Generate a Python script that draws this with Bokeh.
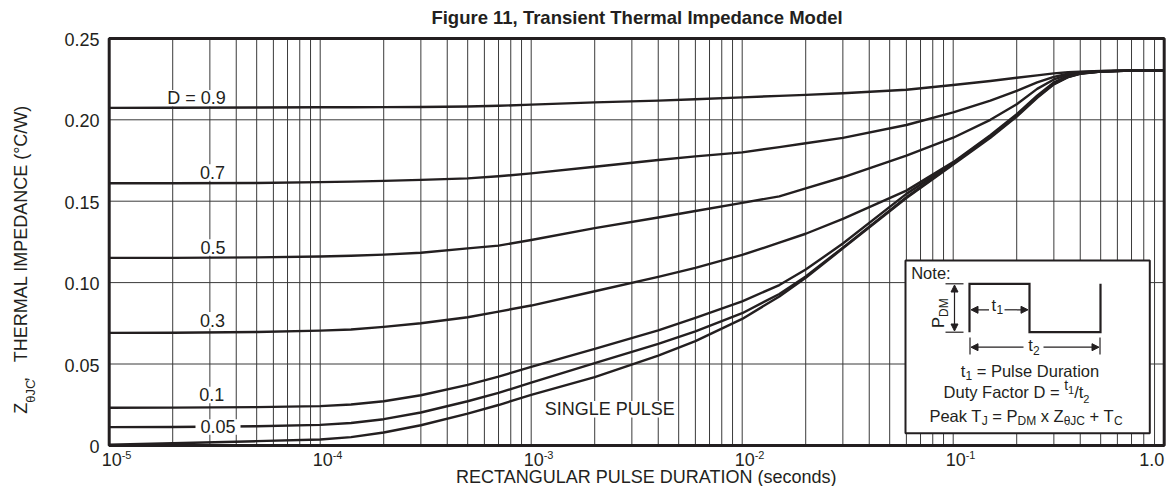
import math
from bokeh.plotting import figure
from bokeh.models import Range1d, Label, Arrow, NormalHead
from bokeh.embed import file_html
from bokeh.resources import INLINE

# ---------------- data ----------------
title_text = "Figure 11, Transient Thermal Impedance Model"
x_label_text = "RECTANGULAR PULSE DURATION (seconds)"
y_ticks = [0.0, 0.05, 0.10, 0.15, 0.20, 0.25]
y_tick_labels = ["0", "0.05", "0.10", "0.15", "0.20", "0.25"]
x_decades = [1e-5, 1e-4, 1e-3, 1e-2, 1e-1]
x_decade_exponents = ["-5", "-4", "-3", "-2", "-1"]
x_last_tick = 1.0
x_last_label = "1.0"

t_s = [1e-5, 2e-5, 5e-5, 1e-4, 1.4e-4, 2e-4, 3e-4, 5e-4, 7e-4, 1e-3,
       2e-3, 4e-3, 6e-3, 1e-2, 1.5e-2, 2e-2, 3e-2, 6e-2,
       1e-1, 1.5e-1, 2e-1, 2.5e-1, 3e-1, 3.5e-1, 4e-1, 5e-1, 7e-1, 1.0]
z_d09 = [0.2073, 0.2074, 0.2076, 0.2077, 0.2077, 0.2078, 0.2079, 0.2082, 0.2086, 0.2093,
         0.2107, 0.2118, 0.2126, 0.2138, 0.2147, 0.2153, 0.2163, 0.2185,
         0.2214, 0.2238, 0.2258, 0.2273, 0.2285, 0.2292, 0.2296, 0.2300, 0.2302, 0.2302]
z_d07 = [0.1610, 0.1610, 0.1612, 0.1617, 0.1620, 0.1625, 0.1631, 0.1640, 0.1653, 0.1671,
         0.1712, 0.1753, 0.1775, 0.1800, 0.1832, 0.1856, 0.1889, 0.1968,
         0.2046, 0.2118, 0.2178, 0.2230, 0.2264, 0.2283, 0.2292, 0.2299, 0.2302, 0.2302]
z_d05 = [0.1152, 0.1152, 0.1155, 0.1160, 0.1165, 0.1172, 0.1183, 0.1210, 0.1227, 0.1262,
         0.1335, 0.1400, 0.1440, 0.1490, 0.1530, 0.1579, 0.1647, 0.1780,
         0.1890, 0.2000, 0.2095, 0.2190, 0.2248, 0.2276, 0.2289, 0.2298, 0.2302, 0.2302]
z_d03 = [0.0691, 0.0692, 0.0697, 0.0705, 0.0712, 0.0728, 0.0750, 0.0787, 0.0822, 0.0859,
         0.0947, 0.1035, 0.1090, 0.1170, 0.1245, 0.1300, 0.1391, 0.1565,
         0.1740, 0.1905, 0.2035, 0.2148, 0.2230, 0.2268, 0.2286, 0.2298, 0.2302, 0.2302]
z_d01 = [0.0231, 0.0232, 0.0235, 0.0241, 0.0251, 0.0271, 0.0308, 0.0372, 0.0423, 0.0482,
         0.0593, 0.0706, 0.0784, 0.0885, 0.0985, 0.1080, 0.1240, 0.1545,
         0.1735, 0.1900, 0.2028, 0.2142, 0.2224, 0.2265, 0.2285, 0.2297, 0.2302, 0.2302]
z_d005 = [0.0112, 0.0113, 0.0118, 0.0126, 0.0138, 0.0161, 0.0202, 0.0271, 0.0323, 0.0385,
          0.0505, 0.0624, 0.0700, 0.0812, 0.0930, 0.1038, 0.1215, 0.1524,
          0.1730, 0.1895, 0.2024, 0.2139, 0.2221, 0.2263, 0.2284, 0.2297, 0.2302, 0.2302]
z_single = [0.0004, 0.0013, 0.0026, 0.0036, 0.0051, 0.0079, 0.0124, 0.0195, 0.0248, 0.0310,
            0.0419, 0.0552, 0.0640, 0.0777, 0.0915, 0.1030, 0.1210, 0.1520,
            0.1725, 0.1890, 0.2020, 0.2135, 0.2218, 0.2262, 0.2283, 0.2297, 0.2302, 0.2302]
series = [z_d09, z_d07, z_d05, z_d03, z_d01, z_d005, z_single]
curve_labels = ["D = 0.9", "0.7", "0.5", "0.3", "0.1", "0.05", "SINGLE PULSE"]

# ---------------- style / layout ----------------
INK = "#231f20"
GRID = "#3a3a3a"
FONT = "Liberation Sans"
WIDTH, HEIGHT = 1173, 486
FX0, FY0 = 108.7, 444.9      # pixel position of x = 1e-5 and z = 0
DEC, PXU = 211.0, 1628.0     # px per decade, px per unit of Z
K = 0.36                     # baseline -> middle anchor, in em


def X(px):
    return 10 ** ((px - FX0) / DEC - 5)


def Y(py):
    return (FY0 - py) / PXU


p = figure(width=WIDTH, height=HEIGHT, x_axis_type="log",
           x_range=Range1d(X(0), X(WIDTH)), y_range=Range1d(Y(HEIGHT), Y(0)),
           x_axis_location=None, y_axis_location=None,
           output_backend="svg", toolbar_location=None, title=None,
           min_border=0)
p.min_border_left = p.min_border_right = p.min_border_top = p.min_border_bottom = 0
p.background_fill_color = "white"
p.border_fill_color = "white"
p.outline_line_color = None
p.grid.visible = False

x0, x1 = x_decades[0], x_last_tick
y0, y1 = y_ticks[0], y_ticks[-1]

# grid
grid_x = [k * d for d in x_decades for k in range(1, 10)] + [x_last_tick]
p.segment(x0=grid_x, y0=[y0] * len(grid_x), x1=grid_x, y1=[y1] * len(grid_x),
          line_color=GRID, line_width=1)
p.segment(x0=[x0] * len(y_ticks), y0=y_ticks, x1=[x1] * len(y_ticks), y1=y_ticks,
          line_color=GRID, line_width=1)

W = {" ": 278, "=": 584, "+": 584, "/": 278, ",": 278, ":": 278, ".": 278,
     "(": 333, ")": 333, "-": 333,
     "\u03b8": 556, "\u00b0": 400,
     "A": 667, "C": 722, "D": 722, "E": 667, "F": 611, "G": 778, "I": 278,
     "J": 500, "L": 556, "M": 833, "N": 722, "P": 667, "S": 667, "T": 611,
     "U": 722, "Z": 611,
     "a": 556, "c": 500, "e": 556, "i": 222, "k": 500, "l": 222, "n": 556,
     "o": 556, "r": 333, "s": 500, "t": 278, "u": 556, "x": 500, "y": 500}


def tw(s, size):
    return sum(W.get(c, 556) for c in s) * size / 1000.0


# white backing behind curve labels (hides the grid, not the curves)
label_pos = [(196, 104), (212, 178.3), (212.5, 253.3), (212, 326), (211.3, 400.7),
             (217.5, 432.7), (609.3, 415)]
bg_l, bg_r, bg_t, bg_b = [], [], [], []
for i in [0, 1, 2, 3, 4, 6]:
    cx, base = label_pos[i]
    w = tw(curve_labels[i], 18)
    bg_l.append(X(cx - w / 2 - 1.5)); bg_r.append(X(cx + w / 2 + 1.5))
    bg_t.append(Y(base - 14.5)); bg_b.append(Y(base + 2))
p.quad(left=bg_l, right=bg_r, top=bg_t, bottom=bg_b, fill_color="white", line_color=None)

# plot frame
p.quad(left=x0, right=x1, bottom=y0, top=y1, fill_color=None,
       line_color=INK, line_width=3)

# curves
for z in series:
    p.line(t_s, z, line_width=2.4, line_color=INK, line_join="round")

# gap in the D = 0.05 curve for its label
cx, base = label_pos[5]
w = tw(curve_labels[5], 18)
p.quad(left=X(cx - w / 2 - 5), right=X(cx + w / 2 + 5), top=Y(base - 14),
       bottom=Y(base + 1.5), fill_color="white", line_color=None)


def lab(text, px, py, size, align="left", bold=False, angle=0.0,
        xd=None, dx=0.0, yd=None, dy=0.0):
    kw = dict(text=text, text_font=FONT, text_font_size=f"{size}px",
              text_color=INK, text_align=align, text_baseline="middle",
              angle=angle)
    if angle:
        kw.update(x=X(px - K * size), y=Y(py))
    else:
        kw.update(x=X(px) if xd is None else xd, x_offset=dx,
                  y=Y(py - K * size) if yd is None else yd, y_offset=dy)
    if bold:
        kw["text_font_style"] = "bold"
    p.add_layout(Label(**kw))


for i, (cx, base) in enumerate(label_pos):
    lab(curve_labels[i], cx, base, 18, align="center")

# title and axis texts
lab(title_text, 636.5, 24, 18.5, align="center", bold=True)
lab(x_label_text, 645.8, 483, 18, align="center")
for d, e in zip(x_decades, x_decade_exponents):
    lab("10", 0, 465, 18, xd=d, dx=-7.5)
    lab(e, 0, 458.5, 11, xd=d, dx=12.5)
lab(x_last_label, 0, 465, 18, align="right", xd=x_last_tick, dx=0.0)
for v, s in zip(y_ticks, y_tick_labels):
    lab(s, 0, 0, 18, align="right", xd=x0, dx=-9.7, yd=v, dy=-1)

R = math.pi / 2
lab("Z", 26.7, 413.3, 18, angle=R)
lab("\u03b8JC", 35.0, 402.3, 13, angle=R)
lab(",", 26.7, 381.5, 18, angle=R)
lab("THERMAL IMPEDANCE (\u00b0C/W)", 26.7, 361.7, 18, angle=R)

# ---------------- note box ----------------
p.quad(left=X(905), right=X(1149.3), top=Y(260), bottom=Y(432.7),
       fill_color="white", line_color=INK, line_width=2)
p.line([X(969), X(969), X(1029), X(1029), X(1100), X(1100)],
       [Y(331.7), Y(283.3), Y(283.3), Y(331.7), Y(331.7), Y(283.3)],
       line_width=2.2, line_color=INK, line_join="miter")
p.segment(x0=[X(945), X(945), X(969.5), X(1099.5)],
          y0=[Y(283.3), Y(331.7), Y(337), Y(337)],
          x1=[X(963), X(963), X(969.5), X(1099.5)],
          y1=[Y(283.3), Y(331.7), Y(354), Y(354)],
          line_width=1.2, line_color=INK)


def head():
    return NormalHead(size=7, fill_color=INK, line_color=INK, line_width=1)


p.add_layout(Arrow(start=head(), end=head(), x_start=X(954), y_start=Y(284.5),
                   x_end=X(954), y_end=Y(330.5), line_width=1.2, line_color=INK))
for xs, xe, yy in [(988.5, 970.5, 309.3), (1004, 1027.5, 309.3),
                   (1023, 970.5, 346.7), (1043, 1098.5, 346.7)]:
    p.add_layout(Arrow(end=head(), x_start=X(xs), y_start=Y(yy), x_end=X(xe),
                       y_end=Y(yy), line_width=1.2, line_color=INK))


def seq(segs, cx, base):
    total = sum(tw(s, sz) for s, sz, dy in segs)
    x = cx - total / 2
    for s, sz, dy in segs:
        lead = len(s) - len(s.lstrip(" "))
        lab(s.strip(" "), x + tw(" " * lead, sz), base + dy, sz)
        x += tw(s, sz)


NS, SS = 16.5, 12
lab("Note:", 910.7, 278.3, NS)
lab("t", 991, 310, NS)
lab("1", 996, 313.5, SS)
lab("t", 1027.7, 350.5, NS)
lab("2", 1032.5, 354.5, SS)
lab("P", 943.3, 327.5, NS, angle=R)
lab("DM", 947.5, 316.5, SS, angle=R)

seq([("t", NS, 0), ("1", SS, 3.5), (" = Pulse Duration", NS, 0)], 1029.5, 376)
seq([("Duty Factor D = ", NS, 0), ("t", 14, -8), ("1", 11, -4),
     ("/t", NS, 0), ("2", 11, 5)], 1016, 397.3)
seq([("Peak T", NS, 0), ("J", SS, 4), (" = P", NS, 0), ("DM", SS, 4),
     (" x Z", NS, 0), ("\u03b8JC", SS, 4), (" + T", NS, 0), ("C", SS, 4)],
    1025.5, 421)

open("out.html", "w").write(file_html(p, INLINE))
